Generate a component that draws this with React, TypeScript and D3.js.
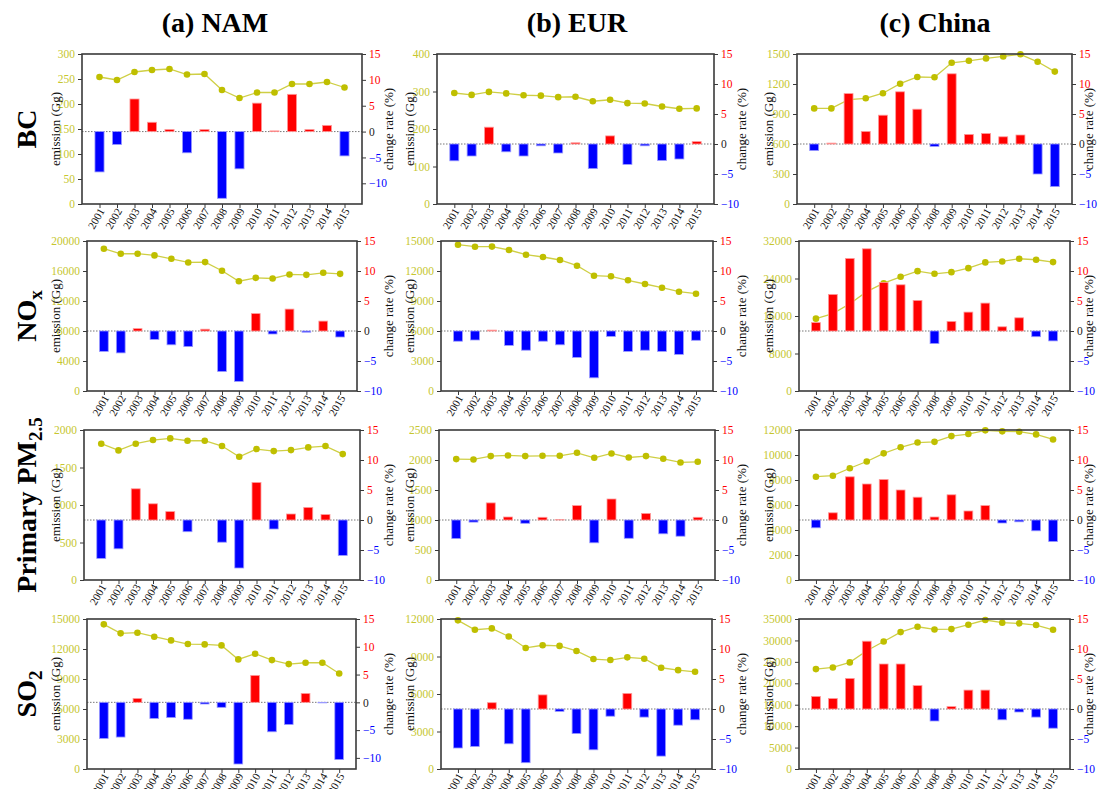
"use client"

import React, { useEffect, useRef } from "react";
import { select, scaleLinear, line, axisLeft, axisRight, axisBottom } from "d3";

const years = [2001, 2002, 2003, 2004, 2005, 2006, 2007, 2008, 2009, 2010, 2011, 2012, 2013, 2014, 2015];
const rateTicks = [-10, -5, 0, 5, 10, 15];
const regions = ["(a) NAM", "(b) EUR", "(c) China"];

// BC
const namBcEmission = [254, 248, 264, 268, 270, 259, 260, 228, 212, 223, 223, 240, 240, 244, 233];
const namBcRate = [-7.8, -2.5, 6.3, 1.8, 0.4, -4.1, 0.4, -12.9, -7.2, 5.5, 0.13, 7.2, 0.4, 1.2, -4.7];
const eurBcEmission = [296, 291, 299, 295, 290, 289, 285, 286, 274, 278, 269, 268, 260, 254, 255];
const eurBcRate = [-2.8, -2.0, 2.8, -1.3, -2.0, -0.3, -1.5, 0.2, -4.1, 1.35, -3.4, -0.3, -2.75, -2.5, 0.4];
const chinaBcEmission = [956, 956, 1044, 1057, 1108, 1203, 1270, 1267, 1412, 1432, 1456, 1476, 1497, 1422, 1324];
const chinaBcRate = [-1.1, 0.15, 8.4, 2.1, 4.8, 8.7, 5.8, -0.4, 11.7, 1.6, 1.75, 1.2, 1.5, -5.0, -7.1];

// NOx
const namNoxEmission = [18970, 18300, 18310, 18080, 17630, 17140, 17190, 16030, 14640, 15090, 15000, 15540, 15490, 15760, 15620];
const namNoxRate = [-3.4, -3.65, 0.4, -1.4, -2.3, -2.6, 0.3, -6.75, -8.4, 2.9, -0.5, 3.65, -0.2, 1.65, -1.0];
const eurNoxEmission = [14630, 14430, 14440, 14100, 13630, 13400, 13100, 12530, 11530, 11470, 11070, 10700, 10330, 9930, 9730];
const eurNoxRate = [-1.7, -1.5, 0.15, -2.4, -3.2, -1.7, -2.3, -4.4, -7.8, -0.9, -3.4, -3.2, -3.4, -3.9, -1.55];
const chinaNoxEmission = [15430, 16500, 18600, 21200, 23000, 24360, 25570, 25000, 25360, 26210, 27430, 27640, 28210, 28000, 27500];
const chinaNoxRate = [1.4, 6.1, 12.1, 13.7, 8.1, 7.7, 5.1, -2.1, 1.6, 3.15, 4.65, 0.7, 2.2, -0.95, -1.65];

// Primary PM2.5
const namPmEmission = [1817, 1728, 1817, 1866, 1888, 1857, 1857, 1786, 1643, 1746, 1719, 1732, 1768, 1786, 1679];
const namPmRate = [-6.4, -4.8, 5.2, 2.7, 1.4, -1.95, 0, -3.7, -8.0, 6.25, -1.5, 1.0, 2.1, 0.9, -5.9];
const eurPmEmission = [2015, 2009, 2065, 2076, 2065, 2070, 2070, 2120, 2037, 2109, 2042, 2065, 2020, 1959, 1970];
const eurPmRate = [-3.1, -0.35, 2.85, 0.5, -0.55, 0.45, 0.05, 2.4, -3.8, 3.5, -3.05, 1.1, -2.3, -2.7, 0.45];
const chinaPmEmission = [8262, 8343, 8939, 9481, 10131, 10619, 10998, 11052, 11512, 11675, 11973, 11892, 11865, 11648, 11242];
const chinaPmRate = [-1.3, 1.2, 7.2, 6.0, 6.75, 5.0, 3.8, 0.5, 4.2, 1.5, 2.4, -0.5, -0.3, -1.8, -3.6];

// SO2
const namSo2Emission = [14465, 13563, 13630, 13229, 12862, 12494, 12461, 12361, 10958, 11526, 10891, 10490, 10624, 10624, 9555];
const namSo2Rate = [-6.5, -6.25, 0.7, -2.9, -2.75, -3.05, -0.3, -0.9, -11.1, 4.85, -5.3, -4.0, 1.6, -0.1, -10.3];
const eurSo2Emission = [11892, 11139, 11247, 10601, 9686, 9901, 9848, 9444, 8798, 8717, 8933, 8825, 8099, 7910, 7776];
const eurSo2Rate = [-6.5, -6.25, 1.05, -5.8, -8.95, 2.35, -0.4, -4.1, -6.8, -1.2, 2.6, -1.35, -7.85, -2.7, -1.8];
const chinaSo2Emission = [23307, 23700, 24877, 27600, 29742, 31939, 33194, 32567, 32646, 33666, 34765, 34137, 33980, 33587, 32489];
const chinaSo2Rate = [2.1, 1.75, 5.1, 11.3, 7.5, 7.5, 3.9, -2.0, 0.4, 3.15, 3.15, -1.8, -0.5, -1.35, -3.2];

// emission axis ticks
const namBcTicks = [0, 50, 100, 150, 200, 250, 300];
const eurBcTicks = [0, 100, 200, 300, 400];
const chinaBcTicks = [0, 300, 600, 900, 1200, 1500];
const namNoxTicks = [0, 4000, 8000, 12000, 16000, 20000];
const eurNoxTicks = [0, 3000, 6000, 9000, 12000, 15000];
const chinaNoxTicks = [0, 8000, 16000, 24000, 32000];
const namPmTicks = [0, 500, 1000, 1500, 2000];
const eurPmTicks = [0, 500, 1000, 1500, 2000, 2500];
const chinaPmTicks = [0, 2000, 4000, 6000, 8000, 10000, 12000];
const namSo2Ticks = [0, 3000, 6000, 9000, 12000, 15000];
const eurSo2Ticks = [0, 3000, 6000, 9000, 12000];
const chinaSo2Ticks = [0, 5000, 10000, 15000, 20000, 25000, 30000, 35000];

const FONT = "Liberation Serif, Times New Roman, serif";
const YELLOW = "#c6c62e";
const DOT = "#bfbf00";

type Panel = {
    emission: number[];
    rate: number[];
    ticks: number[];
    rateMin: number;
    col: number;
    row: number;
    x0: number;
    x1: number;
};

const rowTop = [54, 241, 430, 619];
const rowHeight = 150;
const ylabelX = [55, 409, 768];
const rlabelX = [388, 741, 1088];

const panels: Panel[] = [
    { emission: namBcEmission, rate: namBcRate, ticks: namBcTicks, rateMin: -14, col: 0, row: 0, x0: 82, x1: 362 },
    { emission: eurBcEmission, rate: eurBcRate, ticks: eurBcTicks, rateMin: -10, col: 1, row: 0, x0: 437, x1: 714 },
    { emission: chinaBcEmission, rate: chinaBcRate, ticks: chinaBcTicks, rateMin: -10, col: 2, row: 0, x0: 797, x1: 1072 },
    { emission: namNoxEmission, rate: namNoxRate, ticks: namNoxTicks, rateMin: -10, col: 0, row: 1, x0: 87, x1: 357 },
    { emission: eurNoxEmission, rate: eurNoxRate, ticks: eurNoxTicks, rateMin: -10, col: 1, row: 1, x0: 441, x1: 713 },
    { emission: chinaNoxEmission, rate: chinaNoxRate, ticks: chinaNoxTicks, rateMin: -10, col: 2, row: 1, x0: 799, x1: 1070 },
    { emission: namPmEmission, rate: namPmRate, ticks: namPmTicks, rateMin: -10, col: 0, row: 2, x0: 84, x1: 360 },
    { emission: eurPmEmission, rate: eurPmRate, ticks: eurPmTicks, rateMin: -10, col: 1, row: 2, x0: 439, x1: 715 },
    { emission: chinaPmEmission, rate: chinaPmRate, ticks: chinaPmTicks, rateMin: -10, col: 2, row: 2, x0: 799, x1: 1070 },
    { emission: namSo2Emission, rate: namSo2Rate, ticks: namSo2Ticks, rateMin: -12, col: 0, row: 3, x0: 87, x1: 356 },
    { emission: eurSo2Emission, rate: eurSo2Rate, ticks: eurSo2Ticks, rateMin: -10, col: 1, row: 3, x0: 441, x1: 712 },
    { emission: chinaSo2Emission, rate: chinaSo2Rate, ticks: chinaSo2Ticks, rateMin: -10, col: 2, row: 3, x0: 799, x1: 1070 },
];

const fmtRate = (d: number) => (d < 0 ? "\u2212" + Math.abs(d) : String(d));
const rateColor = (d: number) => (d > 0 ? "#ff0000" : d < 0 ? "#0000ff" : "#222");

const App = () => {
    const ref = useRef<SVGSVGElement>(null);

    useEffect(() => {
        const svg = select(ref.current);
        svg.selectAll("*").remove();

        svg.append("rect").attr("width", 1098).attr("height", 789).attr("fill", "white");

        svg.append("defs")
            .append("clipPath")
            .attr("id", "eurClip")
            .append("rect")
            .attr("x", 0).attr("y", 0).attr("width", 730).attr("height", 789);

        panels.forEach((p) => {
            const top = rowTop[p.row];
            const bottom = top + rowHeight;
            const g = svg.append("g").attr("font-family", FONT);

            const x = scaleLinear().domain([2000, 2016]).range([p.x0, p.x1]);
            const yL = scaleLinear().domain([0, p.ticks[p.ticks.length - 1]]).range([bottom, top]);
            const yR = scaleLinear().domain([p.rateMin, 15]).range([bottom, top]);

            // emission line + markers
            g.append("path")
                .datum(years)
                .attr("fill", "none")
                .attr("stroke", "#cfcf45")
                .attr("stroke-width", 1.3)
                .attr("d", line<number>().x((d) => x(d)).y((d, i) => yL(p.emission[i])));

            g.selectAll(".pt")
                .data(years)
                .enter()
                .append("circle")
                .attr("cx", (d) => x(d))
                .attr("cy", (d, i) => yL(p.emission[i]))
                .attr("r", 3.3)
                .attr("fill", DOT);

            // zero line
            g.append("line")
                .attr("x1", p.x0).attr("x2", p.x1)
                .attr("y1", yR(0)).attr("y2", yR(0))
                .attr("stroke", "#777")
                .attr("stroke-width", 1)
                .attr("stroke-dasharray", "1.5,1.5");

            // change-rate bars
            const bw = (x(1) - x(0)) * 0.52;
            g.selectAll(".bar")
                .data(years)
                .enter()
                .append("rect")
                .attr("x", (d) => x(d) - bw / 2)
                .attr("y", (d, i) => Math.min(yR(p.rate[i]), yR(0)))
                .attr("width", bw)
                .attr("height", (d, i) => Math.abs(yR(p.rate[i]) - yR(0)))
                .attr("fill", (d, i) => (p.rate[i] >= 0 ? "#ff0000" : "#0000ff"))
                .attr("stroke", (d, i) => (p.rate[i] >= 0 ? "#ff9a9a" : "#9a9aff"))
                .attr("stroke-width", 0.8);

            // frame
            g.append("rect")
                .attr("x", p.x0).attr("y", top)
                .attr("width", p.x1 - p.x0).attr("height", rowHeight)
                .attr("fill", "none")
                .attr("stroke", "#3a3a3a")
                .attr("stroke-width", 1.6);

            // left axis
            const la = g.append("g")
                .attr("transform", `translate(${p.x0},0)`)
                .call(axisLeft(yL).tickValues(p.ticks).tickSize(4).tickPadding(3).tickFormat((d) => String(d)))
                .attr("font-family", FONT)
                .attr("font-size", 11.5);
            la.select(".domain").remove();
            la.selectAll("line").attr("stroke", "#3a3a3a");
            la.selectAll("text").attr("fill", YELLOW);

            // right axis
            const ra = g.append("g")
                .attr("transform", `translate(${p.x1},0)`)
                .call(axisRight(yR).tickValues(rateTicks).tickSize(4).tickPadding(3).tickFormat((d) => fmtRate(+d)))
                .attr("font-family", FONT)
                .attr("font-size", 11.5);
            ra.select(".domain").remove();
            ra.selectAll("line").attr("stroke", "#3a3a3a");
            ra.selectAll("text").attr("fill", (d: any) => rateColor(+d));
            if (p.col === 1) ra.attr("clip-path", "url(#eurClip)");

            // bottom axis
            const ba = g.append("g")
                .attr("transform", `translate(0,${bottom})`)
                .call(axisBottom(x).tickValues(years).tickSize(4).tickFormat((d) => String(d)))
                .attr("font-family", FONT)
                .attr("font-size", 11);
            ba.select(".domain").remove();
            ba.selectAll("line").attr("stroke", "#3a3a3a");
            ba.selectAll("text")
                .attr("fill", "#111")
                .attr("text-anchor", "end")
                .attr("dy", "0")
                .attr("y", 0)
                .attr("transform", "translate(5,7) rotate(-60)");

            // axis labels
            const cy = top + rowHeight / 2;
            g.append("text")
                .attr("transform", `translate(${ylabelX[p.col]},${cy}) rotate(-90)`)
                .attr("text-anchor", "middle")
                .attr("dy", "0.35em")
                .attr("font-size", 13)
                .attr("fill", "#111")
                .text("emission (Gg)");

            g.append("text")
                .attr("transform", `translate(${rlabelX[p.col]},${cy}) rotate(-90)`)
                .attr("text-anchor", "middle")
                .attr("dy", "0.35em")
                .attr("font-size", 13)
                .attr("fill", "#111")
                .text("change rate (%)");
        });

        // column titles
        const titleX = [215, 577, 935];
        regions.forEach((r, i) => {
            svg.append("text")
                .attr("x", titleX[i]).attr("y", 32)
                .attr("text-anchor", "middle")
                .attr("font-family", FONT)
                .attr("font-size", 28)
                .attr("font-weight", "bold")
                .attr("fill", "#000")
                .text(r);
        });

        // row labels (with subscripts)
        const rowLabels: [string, string][] = [["BC", ""], ["NO", "x"], ["Primary PM", "2.5"], ["SO", "2"]];
        rowLabels.forEach(([main, sub], i) => {
            const cy = rowTop[i] + rowHeight / 2;
            const t = svg.append("text")
                .attr("transform", `translate(26,${cy}) rotate(-90)`)
                .attr("text-anchor", "middle")
                .attr("dy", "0.35em")
                .attr("font-family", FONT)
                .attr("font-size", 28)
                .attr("font-weight", "bold")
                .attr("fill", "#000");
            t.append("tspan").text(main);
            if (sub) {
                t.append("tspan").attr("dy", "0.3em").attr("font-size", 19).text(sub);
            }
        });
    }, []);

    return (
        <svg
            ref={ref}
            width={1098}
            height={789}
            style={{ position: "absolute", left: 0, top: 0, display: "block" }}
        />
    );
};

export default App;
